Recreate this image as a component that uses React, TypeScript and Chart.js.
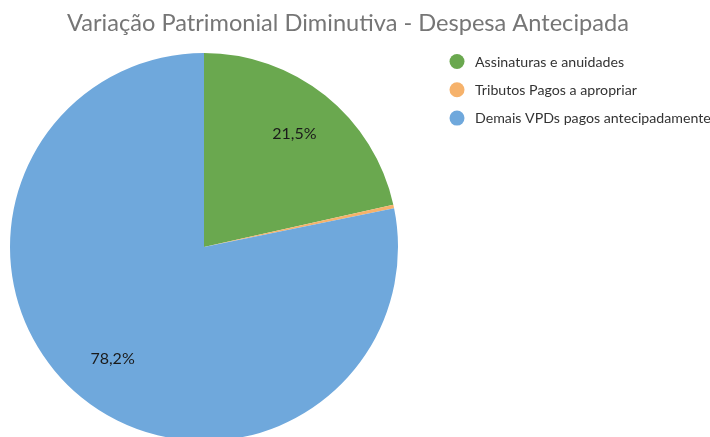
import React, { useEffect, useRef } from "react";
import { Chart, registerables } from "chart.js";

Chart.register(...registerables);

const TITLE = "Variação Patrimonial Diminutiva - Despesa Antecipada";
const categories = [
  "Assinaturas e anuidades",
  "Tributos Pagos a apropriar",
  "Demais VPDs pagos antecipadamente",
];
const values = [21.5, 0.3, 78.2];
const colors = ["#6AA84F", "#F6B26B", "#6FA8DC"];

const FONT = "Lato, 'Open Sans', sans-serif";

const overlayPlugin = {
  id: "overlay",
  afterDraw(chart: any) {
    const ctx = chart.ctx as CanvasRenderingContext2D;
    ctx.save();
    // title
    ctx.fillStyle = "#767676";
    ctx.font = `23.6px ${FONT}`;
    ctx.textAlign = "center";
    ctx.textBaseline = "middle";
    ctx.fillText(TITLE, 348, 23);

    // legend
    ctx.font = `14.2px ${FONT}`;
    ctx.textAlign = "left";
    categories.forEach((c, i) => {
      const y = 61.5 + i * 28.3;
      ctx.beginPath();
      ctx.fillStyle = colors[i];
      ctx.arc(457, y, 7.5, 0, Math.PI * 2);
      ctx.fill();
      ctx.fillStyle = "#333333";
      ctx.fillText(c, 475, y + 0.5);
    });

    // data labels
    const meta = chart.getDatasetMeta(0);
    const total = values.reduce((a, b) => a + b, 0);
    ctx.font = `16px ${FONT}`;
    ctx.textAlign = "center";
    ctx.fillStyle = "#1a1a1a";
    meta.data.forEach((arc: any, i: number) => {
      const pct = (values[i] / total) * 100;
      if (pct < 1) return;
      const { x, y, startAngle, endAngle, outerRadius } = arc.getProps(
        ["x", "y", "startAngle", "endAngle", "outerRadius"],
        true
      );
      const mid = (startAngle + endAngle) / 2;
      const r = outerRadius * 0.745;
      const label = pct.toFixed(1).replace(".", ",") + "%";
      ctx.fillText(label, x + Math.cos(mid) * r, y + Math.sin(mid) * r);
    });
    ctx.restore();
  },
};

export default function App() {
  const ref = useRef<HTMLCanvasElement | null>(null);
  useEffect(() => {
    document.body.style.margin = "0";
    const chart = new Chart(ref.current!, {
      type: "pie",
      data: {
        labels: categories,
        datasets: [
          {
            data: values,
            backgroundColor: colors,
            borderWidth: 0,
          },
        ],
      },
      options: {
        animation: false,
        responsive: true,
        maintainAspectRatio: false,
        layout: { padding: { top: 53, left: 10, right: 312, bottom: 4 } },
        plugins: {
          legend: { display: false },
          title: { display: false },
          tooltip: { enabled: false },
        },
      },
      plugins: [overlayPlugin],
    });
    return () => chart.destroy();
  }, []);
  return (
    <div style={{ position: "fixed", left: 0, top: 0, width: 710, height: 437, overflow: "hidden", background: "#fff" }}>
      <div style={{ position: "relative", width: 710, height: 445 }}>
        <canvas ref={ref} />
      </div>
    </div>
  );
}
